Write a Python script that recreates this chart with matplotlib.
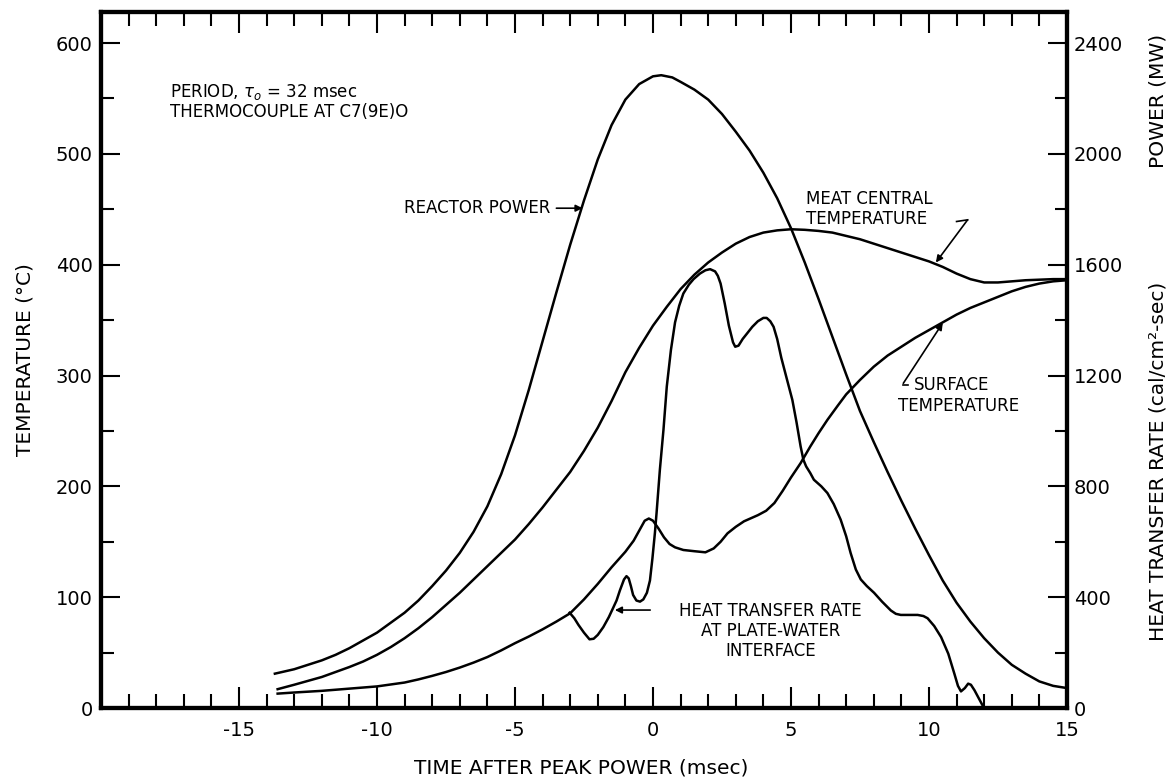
import matplotlib
matplotlib.use("Agg")
import matplotlib.pyplot as plt
from matplotlib.ticker import MultipleLocator

plt.rcParams['font.family'] = ['DejaVu Sans']
plt.rcParams['axes.unicode_minus'] = False

# Reactor power (MW), right axis
power_t = [-13.7, -13.0, -12.5, -12.0, -11.5, -11.0, -10.5, -10.0, -9.5, -9.0,
           -8.5, -8.0, -7.5, -7.0, -6.5, -6.0, -5.5, -5.0, -4.5, -4.0,
           -3.5, -3.0, -2.5, -2.0, -1.5, -1.0, -0.5, 0.0, 0.3, 0.7,
           1.0, 1.5, 2.0, 2.5, 3.0, 3.5, 4.0, 4.5, 5.0, 5.5,
           6.0, 6.5, 7.0, 7.5, 8.0, 8.5, 9.0, 9.5, 10.0, 10.5,
           11.0, 11.5, 12.0, 12.5, 13.0, 13.5, 14.0, 14.5, 15.0]
power_mw = [124, 140, 156, 172, 192, 216, 244, 272, 308, 344,
            388, 440, 496, 560, 636, 728, 844, 984, 1148, 1324,
            1500, 1672, 1832, 1980, 2104, 2196, 2252, 2280, 2284, 2276,
            2260, 2232, 2196, 2144, 2080, 2012, 1932, 1840, 1732, 1608,
            1476, 1340, 1204, 1072, 960, 852, 748, 648, 552, 460,
            380, 312, 252, 200, 156, 124, 96, 80, 72]

# Meat central temperature (deg C)
meat_t = [-13.6, -13.0, -12.5, -12.0, -11.5, -11.0, -10.5, -10.0, -9.5, -9.0,
          -8.5, -8.0, -7.5, -7.0, -6.5, -6.0, -5.5, -5.0, -4.5, -4.0,
          -3.5, -3.0, -2.5, -2.0, -1.5, -1.0, -0.5, 0.0, 0.5, 1.0,
          1.5, 2.0, 2.5, 3.0, 3.5, 4.0, 4.5, 5.0, 5.5, 6.0,
          6.5, 7.0, 7.5, 8.0, 8.5, 9.0, 9.5, 10.0, 10.5, 11.0,
          11.5, 12.0, 12.5, 13.0, 13.5, 14.0, 14.5, 15.0]
meat_c = [17, 21, 24.5, 28, 32.5, 37, 42, 48, 55, 63,
          72, 82, 93, 104, 116, 128, 140, 152, 166, 181,
          197, 213, 232, 253, 277, 303, 325, 345, 362, 378,
          391, 402, 411, 419, 425, 429, 431, 432, 431.5, 430.5,
          429, 426, 423, 419, 415, 411, 407, 403, 398, 392,
          387, 384, 384, 385, 386, 386.5, 387, 387]

# Surface temperature (deg C)
surf_t = [-13.6, -13.0, -12.0, -11.0, -10.0, -9.0, -8.5, -8.0, -7.5, -7.0,
          -6.5, -6.0, -5.5, -5.0, -4.5, -4.0, -3.5, -3.0, -2.5, -2.0,
          -1.5, -1.0, -0.7, -0.5, -0.3, -0.15, 0.0, 0.2, 0.4, 0.6,
          0.8, 1.1, 1.5, 1.9, 2.2, 2.45, 2.7, 3.0, 3.3, 3.8,
          4.1, 4.4, 4.7, 5.0, 5.35, 5.7, 6.0, 6.32, 6.7, 7.0,
          7.5, 8.0, 8.5, 9.0, 9.5, 10.0, 10.5, 11.0, 11.5, 12.0,
          12.5, 13.0, 13.5, 14.0, 14.5, 15.0]
surf_c = [13, 14, 15.5, 17.5, 19.5, 23, 25.8, 29, 32.5, 36.5,
          41, 46, 52, 58.5, 64.5, 71, 78, 85.5, 98, 112,
          127, 141, 151, 160, 169, 171, 169, 162, 154, 148,
          145, 142.6, 141.5, 140.5, 144, 150, 157.6, 163.5, 168.5, 174,
          178, 185, 196, 208, 221, 236, 248, 260, 273, 283,
          296, 308, 318, 326, 334, 341, 348, 355, 361, 366,
          371, 376, 380, 383, 385, 386]

# Heat transfer rate at plate-water interface (cal/cm2-sec), right axis
heat_t = [-3.02, -2.85, -2.7, -2.5, -2.3, -2.15, -2.0, -1.8, -1.6, -1.45,
          -1.32, -1.2, -1.05, -0.96, -0.88, -0.8, -0.72, -0.6, -0.47, -0.35,
          -0.22, -0.11, -0.02, 0.07, 0.13, 0.25, 0.38, 0.5, 0.65, 0.8,
          0.95, 1.1, 1.3, 1.47, 1.7, 1.9, 2.07, 2.25, 2.35, 2.45,
          2.6, 2.75, 2.9, 2.98, 3.1, 3.25, 3.41, 3.6, 3.8, 4.0,
          4.12, 4.25, 4.37, 4.5, 4.65, 4.86, 5.05, 5.2, 5.35, 5.45,
          5.55, 5.7, 5.83, 6.1, 6.32, 6.55, 6.8, 7.0, 7.16, 7.35,
          7.53, 7.75, 8.01, 8.3, 8.62, 8.8, 8.98, 9.3, 9.59, 9.8,
          9.95, 10.19, 10.44, 10.7, 10.92, 11.05, 11.16, 11.3, 11.42, 11.52,
          11.65, 11.8, 11.95, 12.05]
heat_rate = [344, 324, 300, 272, 248, 250, 264, 292, 328, 360,
             388, 424, 464, 476, 468, 440, 408, 388, 384, 392,
             416, 460, 540, 632, 704, 860, 1004, 1160, 1292, 1392,
             1452, 1496, 1528, 1548, 1568, 1580, 1584, 1576, 1560, 1532,
             1460, 1380, 1320, 1304, 1308, 1332, 1352, 1376, 1396, 1408,
             1408, 1396, 1376, 1332, 1264, 1184, 1112, 1032, 944, 896,
             872, 848, 824, 800, 776, 736, 680, 620, 560, 500,
             464, 440, 416, 384, 352, 340, 336, 336, 336, 332,
             324, 296, 256, 196, 124, 80, 60, 72, 88, 84,
             64, 36, 8, 0]

x_ticks = [-15, -10, -5, 0, 5, 10, 15]
x_labels = ['-15', '-10', '-5', '0', '5', '10', '15']
temp_ticks = [0, 100, 200, 300, 400, 500, 600]
right_ticks = [0, 400, 800, 1200, 1600, 2000, 2400]

fig = plt.figure(figsize=(11.73, 7.82), dpi=100)
ax = fig.add_axes([0.0861, 0.0946, 0.8235, 0.8900])
ax2 = ax.twinx()

lw = 1.8
ax2.plot(power_t, power_mw, color='black', lw=lw, zorder=2)
ax2.plot(heat_t, heat_rate, color='black', lw=lw, zorder=2)
ax.plot(meat_t, meat_c, color='black', lw=lw, zorder=3)
ax.plot(surf_t, surf_c, color='black', lw=lw, zorder=3)

ax.set_xlim(-20, 15)
ax.set_ylim(0, 628)
ax2.set_ylim(0, 628 * 4)

# ticks: all pointing inward
ax.set_xticks(x_ticks)
ax.set_xticklabels(x_labels)
ax.xaxis.set_minor_locator(MultipleLocator(1))
ax.set_yticks(temp_ticks)
ax.yaxis.set_minor_locator(MultipleLocator(50))
ax2.set_yticks(right_ticks)
ax2.yaxis.set_minor_locator(MultipleLocator(200))

ax.tick_params(axis='x', which='both', direction='in', top=True, bottom=True,
               labelsize=14, pad=9, width=1.5)
ax.tick_params(axis='x', which='major', length=15)
ax.tick_params(axis='x', which='minor', length=10)
ax.tick_params(axis='y', which='both', direction='in', left=True, right=False,
               labelsize=14, pad=6, width=1.5)
ax.tick_params(axis='y', which='major', length=14)
ax.tick_params(axis='y', which='minor', length=9)
ax2.tick_params(axis='y', which='both', direction='in', labelsize=14, pad=5, width=1.5)
ax2.tick_params(axis='y', which='major', length=14)
ax2.tick_params(axis='y', which='minor', length=9)

for a in (ax, ax2):
    for s in a.spines.values():
        s.set_linewidth(3)

# axis titles
W, H = 1173.0, 782.0
fig.text(581 / W, 1 - 768 / H, "TIME AFTER PEAK POWER (msec)", fontsize=14.5,
         ha='center', va='center')
fig.text(25 / W, 1 - 360 / H, "TEMPERATURE (°C)", fontsize=14.5, rotation=90,
         ha='center', va='center')
fig.text(1158 / W, 1 - 461 / H, "HEAT TRANSFER RATE (cal/cm²-sec)", fontsize=14.5,
         rotation=90, ha='center', va='center')
fig.text(1158 / W, 1 - 101 / H, "POWER (MW)", fontsize=14.5, rotation=90,
         ha='center', va='center')

fs = 12
ax.text(-17.5, 556, r"PERIOD, $\tau_o$ = 32 msec", fontsize=fs, va='center')
ax.text(-17.5, 538, "THERMOCOUPLE AT C7(9E)O", fontsize=fs, va='center')

arrow = dict(arrowstyle='-|>', color='black', lw=1.2, mutation_scale=10,
             shrinkA=0, shrinkB=0)

# reactor power label
ax.text(-3.7, 451, "REACTOR POWER", fontsize=fs, ha='right', va='center')
ax.annotate("", xy=(-2.55, 451), xytext=(-3.5, 451), arrowprops=arrow)

# meat central temperature label with hooked leader
ax.text(5.56, 450, "MEAT CENTRAL\nTEMPERATURE", fontsize=fs, ha='left', va='center',
        linespacing=1.15)
ax.plot([11.0, 11.4], [439, 440.5], color='black', lw=1.2)
ax.annotate("", xy=(10.25, 402), xytext=(11.4, 440.5), arrowprops=arrow)

# surface temperature label with hooked leader
ax.text(9.45, 291.5, "SURFACE", fontsize=fs, ha='left', va='center')
ax.text(8.87, 272.6, "TEMPERATURE", fontsize=fs, ha='left', va='center')
ax.plot([9.05, 9.25], [291.5, 291.5], color='black', lw=1.2)
ax.annotate("", xy=(10.5, 347.5), xytext=(9.07, 293), arrowprops=arrow)

# heat transfer rate label
ax.text(4.25, 69.5, "HEAT TRANSFER RATE\nAT PLATE-WATER\nINTERFACE", fontsize=fs,
        ha='center', va='center', multialignment='center', linespacing=1.15)
ax.annotate("", xy=(-1.38, 88.4), xytext=(-0.1, 88.4), arrowprops=arrow)

fig.savefig("out.png", dpi=100)
